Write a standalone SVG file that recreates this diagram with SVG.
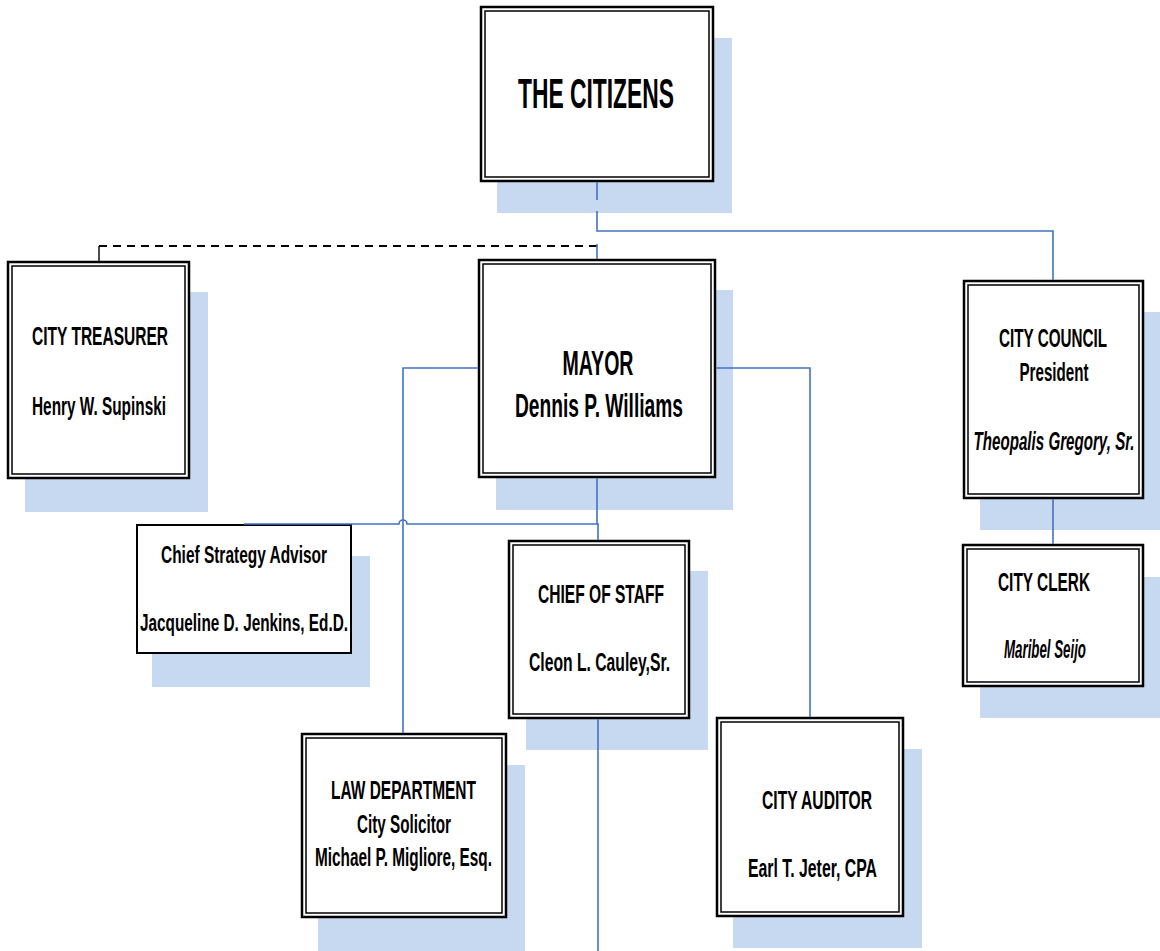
<svg xmlns="http://www.w3.org/2000/svg" width="1160" height="951" viewBox="0 0 1160 951">
<defs>
<style>
.sh{fill:#C6D9F0;stroke:none}
.o{fill:#fff;stroke:#000;stroke-width:2.5}
.i{fill:none;stroke:#000;stroke-width:1.5}
.s{fill:#fff;stroke:#000;stroke-width:2}
text{font-family:"Liberation Sans Narrow","Liberation Sans",Arial,sans-serif;font-weight:bold;fill:#000;text-anchor:middle}
.it{font-style:italic}
.c{fill:none;stroke:#4472C4;stroke-width:1.6}
.d{fill:none;stroke:#000;stroke-width:2;stroke-dasharray:8,6}
.k{fill:none;stroke:#000;stroke-width:1.4}
</style>
</defs>
<rect width="1160" height="951" fill="#fff"/>
<g id="citizens">
<rect class="sh" x="497" y="38" width="235" height="175"/>
<rect class="o" x="481" y="7" width="232" height="174"/>
<rect class="i" x="485" y="11" width="224" height="166"/>
<text x="596" y="108" font-size="42" textLength="156" lengthAdjust="spacingAndGlyphs">THE CITIZENS</text>
</g>
<g id="treasurer">
<rect class="sh" x="25" y="292" width="183" height="220"/>
<rect class="o" x="8" y="262" width="181" height="216"/>
<rect class="i" x="12" y="266" width="173" height="208"/>
<text x="100" y="345" font-size="25" textLength="136" lengthAdjust="spacingAndGlyphs">CITY TREASURER</text>
<text x="99" y="415" font-size="25" textLength="134" lengthAdjust="spacingAndGlyphs">Henry W. Supinski</text>
</g>
<g id="mayor">
<rect class="sh" x="496" y="290" width="237" height="220"/>
<rect class="o" x="479" y="260" width="236" height="217"/>
<rect class="i" x="483" y="264" width="228" height="209"/>
<text x="598" y="375" font-size="35" textLength="71" lengthAdjust="spacingAndGlyphs">MAYOR</text>
<text x="599" y="417" font-size="34" textLength="168" lengthAdjust="spacingAndGlyphs">Dennis P. Williams</text>
</g>
<g id="council">
<rect class="sh" x="980" y="312" width="180" height="218"/>
<rect class="o" x="964" y="281" width="179" height="217"/>
<rect class="i" x="968" y="285" width="171" height="209"/>
<text x="1053" y="347" font-size="26" textLength="108" lengthAdjust="spacingAndGlyphs">CITY COUNCIL</text>
<text x="1054" y="381" font-size="26" textLength="69" lengthAdjust="spacingAndGlyphs">President</text>
<text x="1054" y="450" font-size="26" class="it" textLength="161" lengthAdjust="spacingAndGlyphs">Theopalis Gregory, Sr.</text>
</g>
<g id="strategy">
<rect class="sh" x="152" y="556" width="218" height="131"/>
<rect class="s" x="137" y="525" width="214" height="128"/>
<text x="244" y="563" font-size="23" textLength="166" lengthAdjust="spacingAndGlyphs">Chief Strategy Advisor</text>
<text x="244" y="631" font-size="23" textLength="208" lengthAdjust="spacingAndGlyphs">Jacqueline D. Jenkins, Ed.D.</text>
</g>
<g id="staff">
<rect class="sh" x="526" y="571" width="182" height="179"/>
<rect class="o" x="509" y="541" width="180" height="177"/>
<rect class="i" x="513" y="545" width="172" height="169"/>
<text x="601" y="603" font-size="25" textLength="126" lengthAdjust="spacingAndGlyphs">CHIEF OF STAFF</text>
<text x="599.5" y="671" font-size="25" textLength="141" lengthAdjust="spacingAndGlyphs">Cleon L. Cauley,Sr.</text>
</g>
<g id="clerk">
<rect class="sh" x="980" y="577" width="180" height="141"/>
<rect class="o" x="963" y="545" width="180" height="141"/>
<rect class="i" x="967" y="549" width="172" height="133"/>
<text x="1044" y="591" font-size="25" textLength="92" lengthAdjust="spacingAndGlyphs">CITY CLERK</text>
<text x="1045" y="658" font-size="26" class="it" textLength="82" lengthAdjust="spacingAndGlyphs">Maribel Seijo</text>
</g>
<g id="law">
<rect class="sh" x="318" y="765" width="207" height="186"/>
<rect class="o" x="302" y="734" width="204" height="183"/>
<rect class="i" x="306" y="738" width="196" height="175"/>
<text x="403.5" y="799" font-size="26" textLength="145" lengthAdjust="spacingAndGlyphs">LAW DEPARTMENT</text>
<text x="404" y="833" font-size="26" textLength="94" lengthAdjust="spacingAndGlyphs">City Solicitor</text>
<text x="403.5" y="866" font-size="26" textLength="177" lengthAdjust="spacingAndGlyphs">Michael P. Migliore, Esq.</text>
</g>
<g id="auditor">
<rect class="sh" x="733" y="749" width="189" height="199"/>
<rect class="o" x="717" y="718" width="186" height="198"/>
<rect class="i" x="721" y="722" width="178" height="190"/>
<text x="817" y="809" font-size="25" textLength="110" lengthAdjust="spacingAndGlyphs">CITY AUDITOR</text>
<text x="812.5" y="877" font-size="25" textLength="129" lengthAdjust="spacingAndGlyphs">Earl T. Jeter, CPA</text>
</g>
<g id="connectors">
<path class="c" d="M597 182V200M597 211V231H1053V280"/>
<path class="d" d="M597 246H99"/>
<path class="k" d="M99 246V261"/>
<path class="c" d="M597 244V259"/>
<path class="c" d="M478 368H403V733"/>
<path class="c" d="M716 368H810V717"/>
<path class="c" d="M597 478V524H407A4 4 0 0 0 399 524H244"/>
<path class="c" d="M597 524H598V540"/>
<path class="c" d="M1053 499V544"/>
<path class="c" d="M598 719V951"/>
</g>
</svg>
